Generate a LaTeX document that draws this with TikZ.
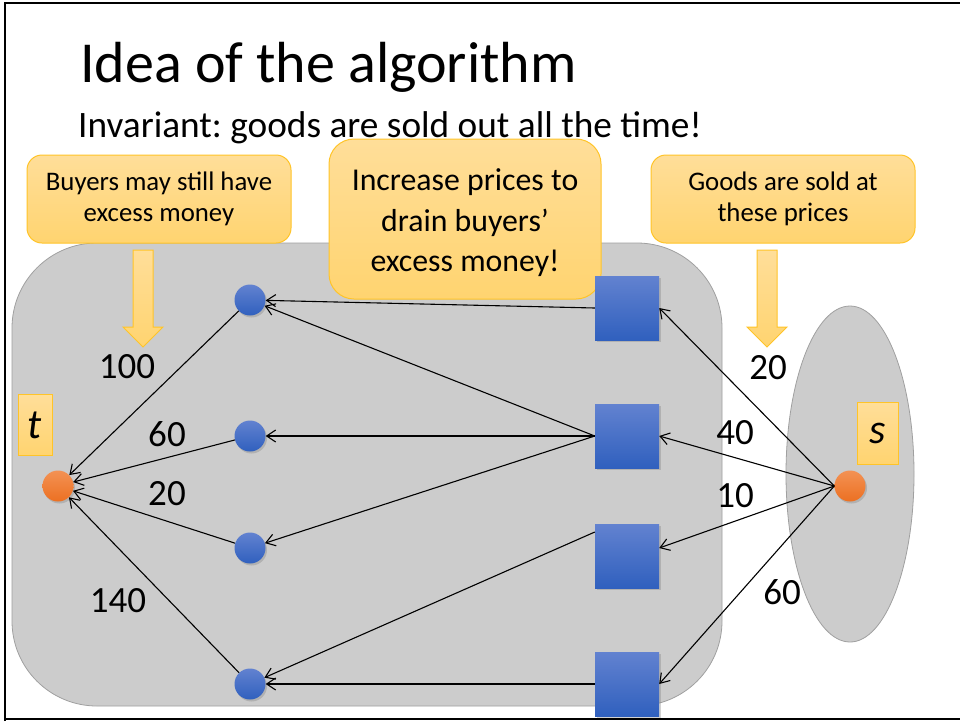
\documentclass[tikz,border=0pt]{standalone}
\usepackage{fontspec}
\setmainfont{Carlito}
\usetikzlibrary{arrows.meta,shadows}
\frenchspacing
\definecolor{panelgray}{RGB}{204,204,204}
\definecolor{panelline}{RGB}{160,160,160}
\definecolor{calltop}{RGB}{255,222,153}
\definecolor{callbot}{RGB}{255,212,112}
\definecolor{callline}{RGB}{255,196,40}
\definecolor{bluetop}{RGB}{98,130,208}
\definecolor{bluebot}{RGB}{48,96,190}
\definecolor{orgtop}{RGB}{243,146,84}
\definecolor{orgbot}{RGB}{236,112,34}
\tikzset{
  panel/.style={fill=panelgray, draw=panelline, line width=0.8},
  calloutbox/.style={top color=calltop, bottom color=callbot, draw=callline, line width=1},
  callout/.style={calloutbox, rounded corners=15, align=center, inner sep=0,
    font=\fontsize{26.8}{31}\selectfont},
  blockarrow/.style={calloutbox},
  softshadow/.style={drop shadow={opacity=0.35, shadow xshift=1.5pt, shadow yshift=-2pt}},
  buyer/.style={circle, minimum size=31, inner sep=0, top color=bluetop,
    bottom color=bluebot, softshadow},
  goodbox/.style={rectangle, minimum size=64, inner sep=0, top color=bluetop,
    bottom color=bluebot, softshadow},
  terminal/.style={circle, minimum size=31, inner sep=0, top color=orgtop,
    bottom color=orgbot, softshadow},
  tag/.style={rectangle, calloutbox, inner sep=0, font=\fontsize{42}{42}\selectfont\itshape},
  num/.style={font=\fontsize{37}{37}\selectfont, inner sep=0},
  edge/.style={draw=black, line width=1.1, -{Straight Barb[length=9pt,width=12pt,line width=1.1pt]}}
}
\begin{document}
\begin{tikzpicture}[x=1pt,y=-1pt]
\useasboundingbox (0,0) rectangle (960,721);
\fill[white] (0,0) rectangle (960,721);

% slide frame
\draw[line width=2] (4.5,721) -- (4.5,3) -- (960,3);
\draw[line width=2] (4.5,718.5) -- (960,718.5);

% titles
\node[anchor=base west, inner sep=0, font=\fontsize{58}{58}\selectfont] (title) at (80,82) {Idea of the algorithm};
\node[anchor=base west, inner sep=0, font=\fontsize{37.3}{37.3}\selectfont] (subtitle) at (78,137) {Invariant: goods are sold out all the time!};

% grey panels
\draw[panel, rounded corners=85] (12,243) rectangle (722,706);
\draw[panel] (850,474) ellipse [x radius=64, y radius=168];

% side callouts and their arrows
\node[callout, minimum width=264, minimum height=88] (cleft) at (159,199) {Buyers may still have\\excess money};
\node[callout, minimum width=264, minimum height=88] (cright) at (783,199) {Goods are sold at\\these prices};
\draw[blockarrow] (133,250) -- (153,250) -- (153,327) -- (163,327) -- (143,347) -- (123,327) -- (133,327) -- cycle;
\draw[blockarrow] (757,250) -- (777,250) -- (777,327) -- (787,327) -- (767,347) -- (747,327) -- (757,327) -- cycle;

% middle callout
\draw[calloutbox, rounded corners=25] (329,139) rectangle (601,299);
\node[align=center, inner sep=0, font=\fontsize{31.8}{40.5}\selectfont] (cmid) at (465,223) {Increase prices to\\drain buyers’\\excess money!};

% nodes
\node[terminal] (t) at (58,486) {};
\node[terminal] (s) at (850,486) {};
\node[buyer] (b1) at (250,300) {};
\node[buyer] (b2) at (250,436) {};
\node[buyer] (b3) at (250,548) {};
\node[buyer] (b4) at (250,684) {};
\node[goodbox] (g1) at (627,308) {};
\node[goodbox] (g2) at (627,436) {};
\node[goodbox] (g3) at (627,556) {};
\node[goodbox] (g4) at (627,684) {};

% labels t and s
\node[tag, minimum width=34, minimum height=61] (tt) at (35,425) {t};
\node[tag, minimum width=41, minimum height=62] (st) at (878,433) {s};

% goods to buyers
\draw[edge] (g1.west) -- (b1);
\draw[edge] (g2.west) -- (b1);
\draw[edge] (g2.west) -- (b2);
\draw[edge] (g2.west) -- (b3);
\draw[edge] ([yshift=24pt]g3.west) -- (b4);
\draw[edge] (g4.west) -- (b4);

% buyers to t
\draw[edge] (b1) -- (t);
\draw[edge] (b2) -- (t);
\draw[edge] (b3) -- (t);
\draw[edge] (b4) -- (t);

% s to goods
\draw[edge] (s.west) -- (g1.east);
\draw[edge] (s.west) -- (g2.east);
\draw[edge] (s.west) -- ([yshift=8pt]g3.east);
\draw[edge] (s.west) -- (g4.east);

% capacities
\node[num] (n100) at (127,367) {100};
\node[num] (n60) at (167,434) {60};
\node[num] (n20) at (167,494) {20};
\node[num] (n140) at (118,601) {140};
\node[num] (m20) at (768,368) {20};
\node[num] (m40) at (735,433) {40};
\node[num] (m10) at (735,496) {10};
\node[num] (m60) at (782,592) {60};
\end{tikzpicture}
\end{document}
